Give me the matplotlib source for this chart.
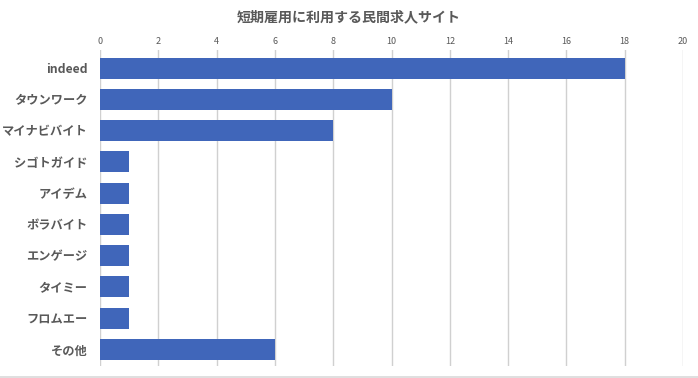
import matplotlib.pyplot as plt
from matplotlib.lines import Line2D

plt.rcParams["font.family"] = ["Noto Sans CJK JP", "DejaVu Sans"]

sites = ["indeed", "タウンワーク", "マイナビバイト", "シゴトガイド", "アイデム",
         "ボラバイト", "エンゲージ", "タイミー", "フロムエー", "その他"]
counts = [18, 10, 8, 1, 1, 1, 1, 1, 1, 6]
xticks = list(range(0, 21, 2))

fig = plt.figure(figsize=(6.98, 3.78), dpi=100)
ax = fig.add_axes([0.1433, 0.0317, 0.8352, 0.836])

ax.barh(range(len(sites)), counts, height=0.67, color="#4066BA", zorder=3)

ax.set_xlim(0, 20)
ax.set_ylim(9.53, -0.58)
ax.set_xticks(xticks)
ax.xaxis.tick_top()
ax.tick_params(axis="x", length=0, pad=3, labelsize=6.5, labelcolor="#595959")
ax.set_yticks(range(len(sites)))
ax.set_yticklabels(sites, fontweight="bold", fontsize=8.8, color="#595959")
ax.tick_params(axis="y", length=0, pad=9)
ax.grid(axis="x", color="#d0d0d0", linewidth=1, zorder=0)
for s in ax.spines.values():
    s.set_visible(False)

fig.text(0.5, 0.955, "短期雇用に利用する民間求人サイト", ha="center", va="center",
         fontsize=10.1, fontweight="bold", color="#595959")
fig.add_artist(Line2D([0, 1], [0.003, 0.003], transform=fig.transFigure,
                      color="#d9d9d9", linewidth=1.2))

fig.savefig("out.png", dpi=100)
